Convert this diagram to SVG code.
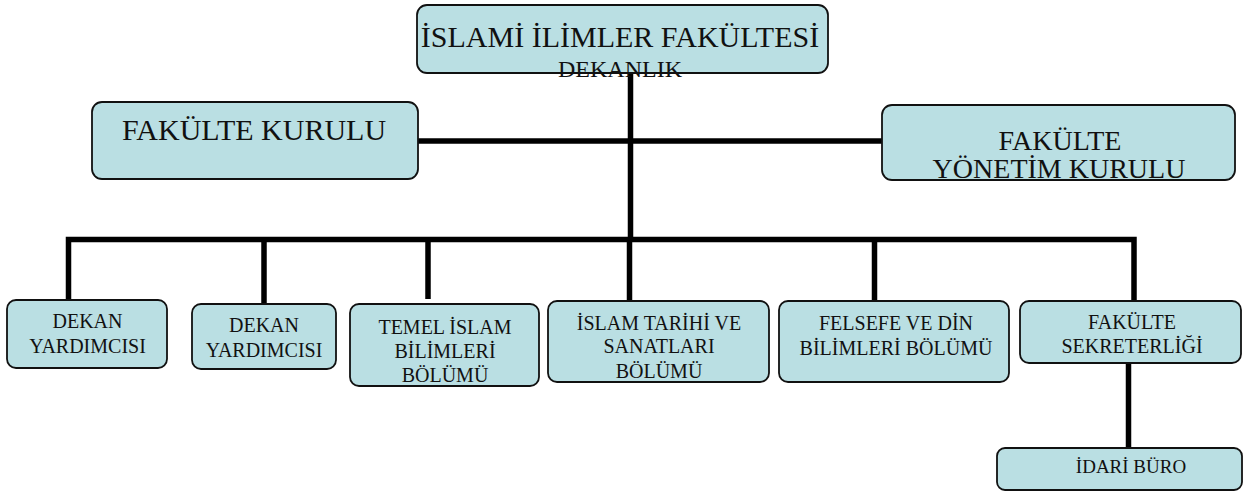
<svg xmlns="http://www.w3.org/2000/svg" width="1243" height="491" viewBox="0 0 1243 491">
<style>
.box{fill:#badfe3;stroke:#111;stroke-width:1.8}
.t{font-family:"Liberation Serif","Times New Roman",serif;fill:#111;text-anchor:middle}
.c{fill:none;stroke:#000;stroke-width:5.5}
</style>
<rect width="1243" height="491" fill="#fff"/>
<g id="connectors">
<path class="c" d="M630.5 73V239.5"/>
<path class="c" d="M418 141H882"/>
<path class="c" d="M68.5 300V239.5H1134V301"/>
<path class="c" d="M264 239.5V304"/>
<path class="c" d="M428 239.5V299"/>
<path class="c" d="M629.5 239.5V301"/>
<path class="c" d="M874.5 239.5V301"/>
<path class="c" d="M1128.5 363V448"/>
</g>
<g id="dekanlik">
<rect class="box" x="417" y="5" width="411" height="68" rx="10"/>
<text class="t" x="620" y="47" font-size="30">İSLAMİ İLİMLER FAKÜLTESİ</text>
<text class="t" x="620" y="77" font-size="24">DEKANLIK</text>
</g>
<g id="fakulte-kurulu">
<rect class="box" x="92" y="102" width="326" height="77" rx="10"/>
<text class="t" x="254" y="140" font-size="30">FAKÜLTE KURULU</text>
</g>
<g id="fakulte-yonetim-kurulu">
<rect class="box" x="882" y="105" width="353" height="75" rx="10"/>
<text class="t" x="1060" y="150" font-size="28">FAKÜLTE</text>
<text class="t" x="1059" y="178" font-size="28">YÖNETİM KURULU</text>
</g>
<g id="dekan-yardimcisi-1">
<rect class="box" x="7" y="300" width="160" height="68" rx="9"/>
<text class="t" x="87.5" y="328" font-size="20">DEKAN</text>
<text class="t" x="87.5" y="353" font-size="20">YARDIMCISI</text>
</g>
<g id="dekan-yardimcisi-2">
<rect class="box" x="192" y="304" width="144" height="65" rx="9"/>
<text class="t" x="264" y="332" font-size="20">DEKAN</text>
<text class="t" x="264" y="357" font-size="20">YARDIMCISI</text>
</g>
<g id="temel-islam">
<rect class="box" x="350" y="304" width="189" height="82" rx="9"/>
<text class="t" x="445" y="334" font-size="20">TEMEL İSLAM</text>
<text class="t" x="445" y="358" font-size="20">BİLİMLERİ</text>
<text class="t" x="445" y="382" font-size="20">BÖLÜMÜ</text>
</g>
<g id="islam-tarihi">
<rect class="box" x="548" y="301" width="221" height="81" rx="9"/>
<text class="t" x="659" y="330" font-size="20">İSLAM TARİHİ VE</text>
<text class="t" x="659" y="353" font-size="20">SANATLARI</text>
<text class="t" x="659" y="378" font-size="20">BÖLÜMÜ</text>
</g>
<g id="felsefe-din">
<rect class="box" x="779" y="301" width="230" height="81" rx="9"/>
<text class="t" x="896" y="330" font-size="20">FELSEFE VE DİN</text>
<text class="t" x="896" y="355" font-size="20">BİLİMLERİ BÖLÜMÜ</text>
</g>
<g id="fakulte-sekreterligi">
<rect class="box" x="1020" y="301" width="221" height="62" rx="9"/>
<text class="t" x="1132" y="329" font-size="20">FAKÜLTE</text>
<text class="t" x="1132" y="353" font-size="20">SEKRETERLİĞİ</text>
</g>
<g id="idari-buro">
<rect class="box" x="997" y="448" width="245" height="42" rx="8"/>
<text class="t" x="1131" y="473" font-size="19">İDARİ BÜRO</text>
</g>
</svg>
